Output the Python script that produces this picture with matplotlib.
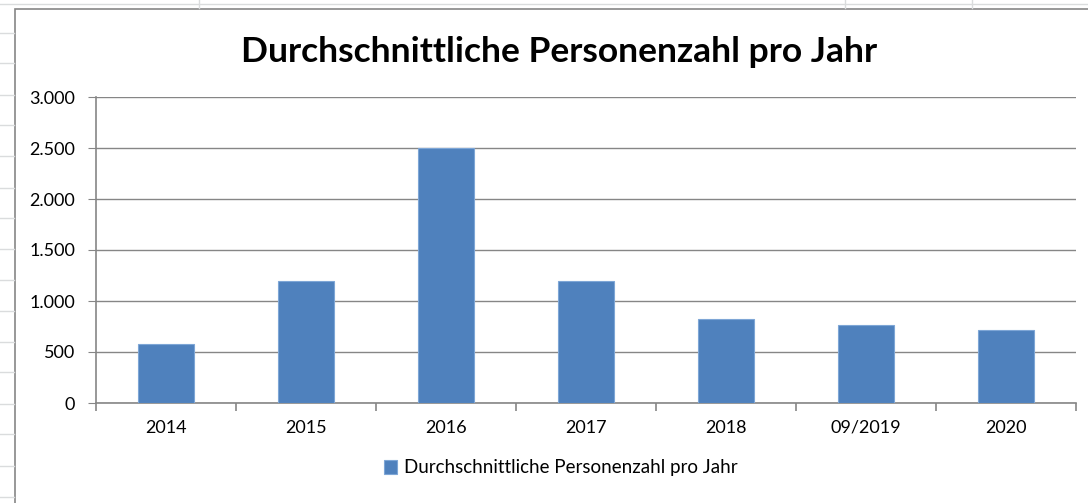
import matplotlib.pyplot as plt
from matplotlib.lines import Line2D
from matplotlib.patches import Rectangle
import numpy as np

plt.rcParams['font.family'] = ['Lato', 'DejaVu Sans']

jahre = ['2014', '2015', '2016', '2017', '2018', '09/2019', '2020']
personen = [575, 1200, 2500, 1200, 820, 760, 713]
titel = 'Durchschnittliche Personenzahl pro Jahr'

W, H = 1088, 503
fig = plt.figure(figsize=(W / 100, H / 100), dpi=100)
fig.patch.set_facecolor('white')

# spreadsheet grid behind the chart
grid_col = '#dadcdd'
for yy in [33, 63, 95, 125, 156, 188, 218, 249, 280, 311, 342, 372, 404, 434, 466, 497]:
    fig.add_artist(Line2D([0, 14 / W], [1 - yy / H] * 2, color=grid_col, lw=1))
for xx in [199, 845, 972]:
    fig.add_artist(Line2D([xx / W] * 2, [1, 1 - 8 / H], color=grid_col, lw=1))
fig.add_artist(Line2D([0, 1], [1 - 4 / H] * 2, color=grid_col, lw=1))
# chart frame
fig.add_artist(Rectangle((14.5 / W, -0.01), 1.0, 1 - 8.5 / H + 0.01, transform=fig.transFigure,
                         facecolor='white', edgecolor='#868686', lw=1.2, zorder=0))

ax = fig.add_axes([96 / W, 1 - 403 / H, 980 / W, 306 / H])
ax.set_facecolor('none')
x = np.arange(len(jahre))
ax.bar(x, personen, width=0.4, color='#4f81bd', edgecolor='#7ea6d6', lw=0.8, zorder=3,
       label=titel)

ax.set_xlim(-0.5, len(jahre) - 0.5)
ax.set_ylim(0, 3000)
ax.set_yticks(np.arange(0, 3001, 500))
ax.set_yticklabels(['0', '500', '1.000', '1.500', '2.000', '2.500', '3.000'])
ax.set_xticks(x)
ax.set_xticklabels(jahre)
ax.set_xticks(np.arange(-0.5, len(jahre)), minor=True)
ax.grid(axis='y', color='#868686', lw=1, zorder=0)

for s in ['top', 'right']:
    ax.spines[s].set_visible(False)
for s in ['left', 'bottom']:
    ax.spines[s].set_color('#868686')
    ax.spines[s].set_linewidth(1.2)
ax.tick_params(axis='y', length=6, color='#868686', labelsize=13, pad=9)
ax.tick_params(axis='x', which='major', length=0, labelsize=13, pad=12)
ax.tick_params(axis='x', which='minor', length=6, color='#868686', width=1.2)

fig.text(559 / W, 1 - 52 / H, titel, ha='center', va='center', fontsize=25.5, fontweight='bold')

fig.legend(loc='center', bbox_to_anchor=(561 / W, 1 - 468 / H), frameon=False,
           fontsize=13.5, handlelength=0.7, handleheight=0.7, handletextpad=0.4)

fig.savefig('out.png', dpi=100)
